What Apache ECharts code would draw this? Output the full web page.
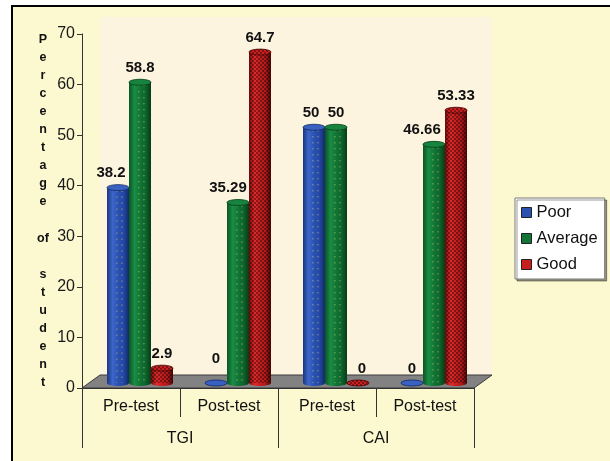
<!DOCTYPE html>
<html>
<head>
<meta charset="utf-8">
<script src="https://cdn.jsdelivr.net/npm/echarts@6/dist/echarts.min.js"></script>
<style>
  html, body { margin: 0; padding: 0; background: #ffffff; }
  #chart { width: 610px; height: 461px; }
</style>
</head>
<body>
<div id="chart"></div>
<script>
// ---- data ----
const groups = ['TGI', 'CAI'];
const phases = ['Pre-test', 'Post-test', 'Pre-test', 'Post-test'];
const seriesNames = ['Poor', 'Average', 'Good'];
const poor = [38.2, 0, 50, 0];
const average = [58.8, 35.29, 50, 46.66];
const good = [2.9, 64.7, 0, 53.33];
const yMin = 0, yMax = 70, yStep = 10;
const yAxisTitle = 'Percentage of student';

// ---- layout ----
const FONT = '"Liberation Sans", Arial, sans-serif';
const AX = { left: 82, top: 34, width: 392, height: 354 };   // visible axes frame
const DEPTH = { dx: 18, dy: -13 };                            // 3D floor depth
const BAR_BOTTOM = 383;                                       // cylinders stand mid-floor
const BAR_TOP = 25;
const BAR_W = 22;
const RIM = 3;                                                // half-height of the elliptical ends

function hGrad(stops) {
  return {
    type: 'linear', x: 0, y: 0, x2: 1, y2: 0,
    colorStops: stops.map((c, i) => ({ offset: i / (stops.length - 1), color: c }))
  };
}

// fine dark checker used on the red cylinders
function checkerPattern() {
  const c = document.createElement('canvas');
  c.width = 4; c.height = 4;
  const g = c.getContext('2d');
  g.fillStyle = 'rgba(0,0,0,0.38)';
  g.fillRect(0, 0, 2, 2);
  g.fillRect(2, 2, 2, 2);
  return { image: c, repeat: 'repeat' };
}

const looks = {
  Poor: {
    body: hGrad(['#1a3580', '#3c66c9', '#2b51b2', '#2447a3', '#132a68']),
    cap: '#3a60c0', edge: '#142a66', legend: '#2a50b0', dots: true
  },
  Average: {
    body: hGrad(['#0a5524', '#1a8c45', '#127536', '#0e652d', '#073c17']),
    cap: '#16843f', edge: '#073c17', legend: '#127536', dots: true
  },
  Good: {
    body: hGrad(['#7a0c0c', '#e02a2a', '#c81f1f', '#b01a1a', '#500606']),
    cap: '#cc2020', edge: '#4a0505', legend: '#c81e1e', texture: checkerPattern()
  }
};

// small label nudges so neighbouring labels clear the taller cylinders
const labelNudge = {
  Poor: [[-7, 0], [0, -10], [-3, 0], [0, 0]],
  Average: [[0, 0], [-10, 0], [0, 0], [-12, 0]],
  Good: [[0, 0], [0, 0], [4, 0], [0, 0]]
};

const values = { Poor: poor, Average: average, Good: good };

function cylinderRenderer(name, k) {
  const look = looks[name];
  return function (params, api) {
    const i = api.value(0);
    const v = api.value(1);
    const topPt = api.coord([i, v]);
    const basePt = api.coord([i, 0]);
    const cx = topPt[0] + (k - (seriesNames.length - 1) / 2) * BAR_W;
    const rx = BAR_W / 2;
    const h = Math.max(0, basePt[1] - topPt[1]);
    const children = [
      { type: 'ellipse', shape: { cx: cx, cy: basePt[1], rx: rx, ry: RIM },
        style: { fill: look.body } },
      { type: 'rect', shape: { x: cx - rx, y: topPt[1], width: BAR_W, height: h },
        style: { fill: look.body } }
    ];
    if (look.texture && h > 0) {
      children.push({ type: 'rect', shape: { x: cx - rx, y: topPt[1], width: BAR_W, height: h },
        style: { fill: look.texture } });
    }
    if (look.dots && h > 0) {
      [0.45, 0.68].forEach((f) => {
        children.push({ type: 'line',
          shape: { x1: cx - rx + BAR_W * f, y1: topPt[1] + RIM, x2: cx - rx + BAR_W * f, y2: basePt[1] },
          style: { stroke: 'rgba(225,235,110,0.75)', lineWidth: 1, lineDash: [1, 5] } });
      });
    }
    children.push(
      { type: 'ellipse', shape: { cx: cx, cy: topPt[1], rx: rx, ry: RIM },
        style: { fill: look.cap, stroke: look.edge, lineWidth: 0.8 } }
    );
    if (look.texture) {
      children.push({ type: 'ellipse', shape: { cx: cx, cy: topPt[1], rx: rx, ry: RIM },
        style: { fill: look.texture } });
    }
    const nudge = labelNudge[name][params.dataIndex];
    children.push({
      type: 'text',
      style: {
        x: cx + nudge[0], y: topPt[1] - 7 + nudge[1],
        text: String(v), align: 'center', verticalAlign: 'bottom',
        font: 'bold 15px ' + FONT, fill: '#111111'
      }
    });
    return { type: 'group', children: children };
  };
}

const series = seriesNames.map((name, k) => ({
  type: 'custom', name: name,
  xAxisIndex: 2, yAxisIndex: 1,
  data: values[name].map((v, i) => [i, v]),
  encode: { x: 0, y: 1 },
  itemStyle: { color: looks[name].legend },
  renderItem: cylinderRenderer(name, k),
  clip: false, z: 3 + k
}));

const floorY = AX.top + AX.height;
const chart = echarts.init(document.getElementById('chart'), null, { renderer: 'canvas' });

chart.setOption({
  animation: false,
  backgroundColor: '#ffffff',
  textStyle: { fontFamily: FONT },
  graphic: [
    { type: 'rect', z: -30, silent: true,
      shape: { x: 12, y: 6, width: 640, height: 500 },
      style: { fill: '#fcf8cf', stroke: '#000000', lineWidth: 2 } },
    { type: 'rect', z: -20, silent: true,
      shape: { x: AX.left + DEPTH.dx, y: 17, width: AX.width, height: floorY + DEPTH.dy - 17 },
      style: { fill: '#fdf4df' } },
    { type: 'polygon', z: -10, silent: true,
      shape: { points: [
        [AX.left, floorY],
        [AX.left + DEPTH.dx, floorY + DEPTH.dy],
        [AX.left + AX.width + DEPTH.dx, floorY + DEPTH.dy],
        [AX.left + AX.width, floorY]
      ] },
      style: { fill: '#828282', stroke: '#3a3a3a', lineWidth: 1 } }
  ],
  legend: {
    left: 515, top: 198, orient: 'vertical',
    padding: [6, 7, 6, 6], itemGap: 9,
    itemWidth: 10, itemHeight: 10, icon: 'rect',
    backgroundColor: '#ffffff', borderColor: '#7a7a7a', borderWidth: 1,
    shadowColor: 'rgba(0,0,0,0.4)', shadowOffsetX: 2, shadowOffsetY: 2, shadowBlur: 0,
    textStyle: { fontFamily: FONT, fontSize: 16.5, color: '#111111' },
    data: seriesNames.map((n) => ({
      name: n,
      itemStyle: { color: looks[n].legend, borderColor: '#222222', borderWidth: 1 }
    }))
  },
  grid: [
    { left: AX.left, top: AX.top, width: AX.width, height: AX.height },
    { left: AX.left + DEPTH.dx / 2, top: BAR_TOP, width: AX.width, height: BAR_BOTTOM - BAR_TOP }
  ],
  xAxis: [
    { type: 'category', gridIndex: 0, position: 'bottom', data: phases,
      axisLine: { show: true, lineStyle: { color: '#333333', width: 1 } },
      axisTick: { show: true, interval: 0, length: 29, lineStyle: { color: '#333333' } },
      axisLabel: { interval: 0, margin: 11, fontFamily: FONT, fontSize: 16, color: '#111111' } },
    { type: 'category', gridIndex: 0, position: 'bottom', data: groups,
      axisLine: { show: false },
      axisTick: { show: true, interval: 0, length: 60, lineStyle: { color: '#333333' } },
      axisLabel: { interval: 0, margin: 43, fontFamily: FONT, fontSize: 16, color: '#111111' } },
    { type: 'category', gridIndex: 1, data: phases, show: false }
  ],
  yAxis: [
    { type: 'value', gridIndex: 0, min: yMin, max: yMax, interval: yStep,
      splitLine: { show: false },
      axisLine: { show: true, lineStyle: { color: '#333333', width: 1 } },
      axisTick: { show: true, length: 5, lineStyle: { color: '#333333' } },
      axisLabel: { margin: 7, fontFamily: FONT, fontSize: 16, color: '#1a1a1a' },
      name: yAxisTitle.split(' ').map((w) => w === 'of' ? w : w.split('').join('\n')).join('\n\n'),
      nameLocation: 'middle', nameRotate: 0, nameGap: 39,
      nameTextStyle: { fontFamily: FONT, fontWeight: 'bold', fontSize: 12.5, lineHeight: 18.1,
        color: '#111111', align: 'center', verticalAlign: 'middle' } },
    { type: 'value', gridIndex: 1, min: yMin, max: yMax, show: false, splitLine: { show: false } }
  ],
  series: series
});
</script>
</body>
</html>
